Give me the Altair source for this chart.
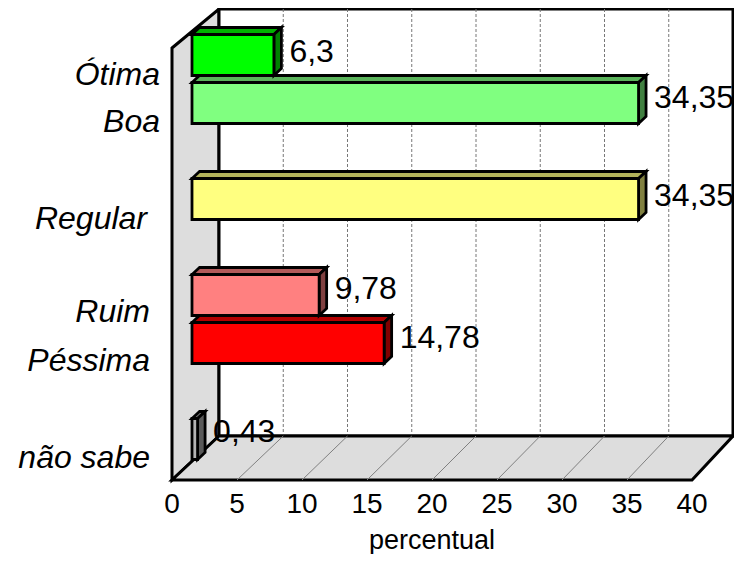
import altair as alt
import pandas as pd

# ---- chart data (empty strings/None are the blank category slots of the source)
categories = ["Ótima", "Boa", "", "Regular", "", "Ruim", "Péssima", "", "não sabe"]
values = [6.3, 34.35, None, 34.35, None, 9.78, 14.78, None, 0.43]
x_ticks = [0, 5, 10, 15, 20, 25, 30, 35, 40]
axis_title = "percentual"

# ---- styles
front_colors = ["#00FF00", "#80FF80", None, "#FFFF80", None, "#FF8080", "#FF0000", None, "#B4B4B4"]
top_colors = ["#00B300", "#5AB35A", None, "#B3B35A", None, "#B35A5A", "#B30000", None, "#7E7E7E"]
side_colors = ["#008000", "#408040", None, "#808040", None, "#804040", "#800000", None, "#5A5A5A"]
label_right = [160, 160, None, 147, None, 150, 150, None, 150]
label_y = [75, 122, None, 219, None, 312, 361, None, 458]
value_dy = [-3.5, -5, None, -3.5, None, -6, -5, None, -7]

FONT = "Liberation Sans"
W, H = 726, 546
OX, OY = 8, 8
PX_X = 13.0          # pixels per percent
PX_Y = 48.0          # pixels per category slot
X0, Y0 = 172, 48     # page position of value 0 / slot 0 on the front plane
DEPTH_X, DEPTH_Y = 47, 44   # oblique shift of the back wall
BACK_RATIO = 12.85 / 13     # back plane narrowed a little so it fits inside the page
TOP_CLIP = 9
LINE = 3


def vx(page_x):
    return (page_x - X0) / PX_X


def sy(page_y):
    return (page_y - Y0) / PX_Y


xs = alt.Scale(domain=[vx(OX), vx(OX + W)], range=[0, W], nice=False, zero=False)
ys = alt.Scale(domain=[sy(OY), sy(OY + H)], range=[0, H], nice=False, zero=False)
X = lambda f="x", **k: alt.X(f"{f}:Q", scale=xs, axis=None, **k)
Y = lambda f="y", **k: alt.Y(f"{f}:Q", scale=ys, axis=None, **k)

back_left = vx(X0 + DEPTH_X)
x_end = x_ticks[-1]
x_end_back = back_left + x_ticks[-1] * BACK_RATIO
front_bottom = sy(480)
back_bottom = sy(480 - DEPTH_Y)
wall_top = sy(TOP_CLIP)

# ---- walls and floor
side_wall = alt.Chart(pd.DataFrame({
    "x": [0, back_left], "y": [0, wall_top], "y2": [front_bottom, back_bottom]
})).mark_area(orient="vertical", fill="#DDDDDD", stroke="black", strokeWidth=LINE).encode(
    x=X(), y=Y(), y2="y2:Q")

back_wall = alt.Chart(pd.DataFrame({
    "x": [back_left], "x2": [x_end_back], "y": [wall_top], "y2": [back_bottom]
})).mark_rect(fill="white", stroke="black", strokeWidth=LINE).encode(
    x=X(), x2="x2:Q", y=Y(), y2="y2:Q")

grid_back = alt.Chart(pd.DataFrame({
    "x": [back_left + t * BACK_RATIO for t in x_ticks[1:-1]],
    "y": wall_top, "y2": back_bottom
})).mark_rule(color="#777777", strokeWidth=1, strokeDash=[3, 2]).encode(x=X(), y=Y(), y2="y2:Q")

floor = alt.Chart(pd.DataFrame({
    "y": [front_bottom, back_bottom], "x": [0, back_left], "x2": [x_end, x_end_back]
})).mark_area(orient="horizontal", fill="#DDDDDD", stroke="black", strokeWidth=LINE).encode(
    y=Y(), x=X(), x2="x2:Q")

grid_rows = []
for t in x_ticks[1:-1]:
    grid_rows.append({"t": t, "x": t, "y": front_bottom})
    grid_rows.append({"t": t, "x": back_left + t * BACK_RATIO, "y": back_bottom})
grid_floor = alt.Chart(pd.DataFrame(grid_rows)).mark_line(color="#808080", strokeWidth=1).encode(
    x=X(), y=Y(), detail="t:N")

# ---- x tick labels and title
tick_labels = alt.Chart(pd.DataFrame({
    "x": x_ticks, "y": sy(504.5), "t": [str(t) for t in x_ticks]
})).mark_text(font=FONT, fontSize=28, align="center", baseline="middle", color="black").encode(
    x=X(), y=Y(), text="t:N")

x_title = alt.Chart(pd.DataFrame({
    "x": [vx(432)], "y": [sy(549)], "t": [axis_title]
})).mark_text(font=FONT, fontSize=27, align="center", baseline="alphabetic", color="black").encode(
    x=X(), y=Y(), text="t:N")

# ---- bars
BAR_DX, BAR_TOP, BAR_H = 20, 34.5, 41
D_X, D_Y = 7.5, 7
fronts, tops, sides, texts, cats = [], [], [], [], []
for i, (c, v) in enumerate(zip(categories, values)):
    if v is None:
        continue
    left = vx(X0 + BAR_DX)
    right = left + v
    t = sy(BAR_TOP + PX_Y * i)
    b = t + BAR_H / PX_Y
    dx, dy = D_X / PX_X, D_Y / PX_Y
    fronts.append({"c": c, "x": left, "x2": right, "y": t, "y2": b, "f": front_colors[i]})
    tops.append({"c": c, "y": t, "x": left, "x2": right, "f": top_colors[i]})
    tops.append({"c": c, "y": t - dy, "x": left + dx, "x2": right + dx, "f": top_colors[i]})
    sides.append({"c": c, "x": right, "y": t, "y2": b, "f": side_colors[i]})
    sides.append({"c": c, "x": right + dx, "y": t - dy, "y2": b - dy, "f": side_colors[i]})
    texts.append({"x": right + 15.5 / PX_X, "y": (t + b) / 2 + value_dy[i] / PX_Y,
                  "t": str(v).replace(".", ",")})
    cats.append({"x": vx(label_right[i]), "y": sy(label_y[i]), "t": c})

bar_style = dict(stroke="black", strokeWidth=2.8, strokeJoin="miter")
bar_top = alt.Chart(pd.DataFrame(tops)).mark_area(orient="horizontal", **bar_style).encode(
    y=Y(), x=X(), x2="x2:Q", fill=alt.Fill("f:N", scale=None), detail="c:N")
bar_side = alt.Chart(pd.DataFrame(sides)).mark_area(orient="vertical", **bar_style).encode(
    x=X(), y=Y(), y2="y2:Q", fill=alt.Fill("f:N", scale=None), detail="c:N")
bar_front = alt.Chart(pd.DataFrame(fronts)).mark_rect(**bar_style).encode(
    x=X(), x2="x2:Q", y=Y(), y2="y2:Q", fill=alt.Fill("f:N", scale=None), detail="c:N")

value_labels = alt.Chart(pd.DataFrame(texts)).mark_text(
    font=FONT, fontSize=32, align="left", baseline="middle", color="black"
).encode(x=X(), y=Y(), text="t:N")

category_labels = alt.Chart(pd.DataFrame(cats)).mark_text(
    font=FONT, fontSize=32, fontStyle="italic", align="right", baseline="middle", color="black"
).encode(x=X(), y=Y(), text="t:N")

chart = alt.layer(
    side_wall, back_wall, grid_back, floor, grid_floor, tick_labels, x_title,
    bar_top, bar_side, bar_front, value_labels, category_labels
).properties(
    width=W, height=H, padding=0, autosize=alt.AutoSizeParams(type="none"), background="white"
).configure_view(stroke=None)

chart.save("out.html", embed_options={"renderer": "svg", "actions": False})
